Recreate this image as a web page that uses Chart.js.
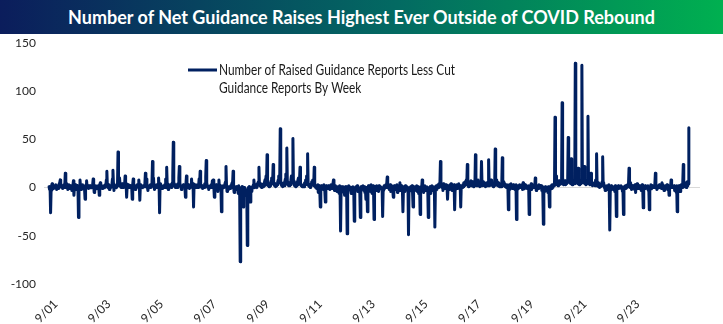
<!DOCTYPE html>
<html>
<head>
<meta charset="utf-8">
<script src="https://cdn.jsdelivr.net/npm/chart.js@4.4.1/dist/chart.umd.min.js"></script>
<style>
  html, body { margin: 0; padding: 0; background: #fff; }
  #wrap { position: relative; width: 723px; height: 324px; overflow: hidden; }
  #myChart { position: absolute; left: 0; top: 0; }
  #title {
    position: absolute; left: 0; top: 0; width: 723px; height: 34px;
    background: linear-gradient(to right, #0b1d5c 0%, #036a62 55%, #00b050 100%);
    color: #fff; font: bold 18px Lato, sans-serif; text-align: center; line-height: 34px;
  }
</style>
</head>
<body>
<div id="wrap">
  <canvas id="myChart" width="723" height="324"></canvas>
  <div id="title">Number of Net Guidance Raises Highest Ever Outside of COVID Rebound</div>
</div>
<script>
// weekly series, first reading is Friday 1 June 2001
var startDate = Date.UTC(2001, 5, 1);
var seriesLabel = "Number of Raised Guidance Reports Less Cut Guidance Reports By Week";
var legendLines = ["Number of Raised Guidance Reports Less Cut", "Guidance Reports By Week"];
var tickYears = [2001, 2003, 2005, 2007, 2009, 2011, 2013, 2015, 2017, 2019, 2021, 2023];
var tickLabels = ["9/01", "9/03", "9/05", "9/07", "9/09", "9/11", "9/13", "9/15", "9/17", "9/19", "9/21", "9/23"];
var yTicks = [-100, -50, 0, 50, 100, 150];

// net raises (raised minus cut), one row per calendar year
var netGuidance = [
  1,-2,0,-26,-3,2,4,1,0,-1,1,2,0,3,1,-2,0,1,2,-1,4,5,8,3,1,0,2,-1,1,3,0, // 2001
  3,15,2,0,4,1,-2,0,3,1,-1,2,0, 1,-3,-1,2,7,-8,0,1,3,0,-2,1,2, 0,-31,-4,2,8,1,0,-2,1,3,0,2,1, -2,-12,-1,3,7,1,0,2,-1,0,1,2,0, // 2002
  1,0,2,3,9,2,-5,0,1,2,0,-1,1, 0,2,1,-8,3,5,1,0,2,-1,1,0,2, 1,0,3,2,8,17,2,0,1,3,-2,1,0, 2,1,3,9,18,4,-3,1,0,2,1,0,2, // 2003
  3,37,5,2,10,3,1,0,2,4,1,0,2, 1,3,12,2,4,-10,1,0,3,2,0,1,2, 0,2,1,-12,3,9,2,0,1,-2,2,1,0, 3,2,1,8,2,-13,1,3,0,2,1,0,2,1, // 2004
  1,4,15,3,9,2,0,-3,1,2,0,1,3, 0,2,5,27,4,10,1,-2,0,2,1,3,0, 1,3,10,2,-26,4,1,0,2,-1,1,0,2, 1,3,0,9,2,21,4,1,-2,0,2,1,3, // 2005
  2,0,3,5,12,47,6,2,1,0,3,1,2, 0,4,3,10,22,5,2,1,-2,0,2,1,3, 1,2,0,-10,4,12,2,1,0,3,1,-1,2, 0,3,9,2,1,4,-20,2,0,1,3,0,2, // 2006
  1,3,0,2,9,4,17,3,1,0,2,-1,1, 2,0,4,3,11,28,5,2,0,1,-2,1,0, 2,1,3,0,7,2,8,1,-10,2,0,1,3, 0,2,-4,3,8,1,0,2,1,-25,-3,0,2, // 2007
  0,2,1,4,6,22,3,-4,0,1,-2,0,1, -1,2,0,3,5,4,17,1,-5,0,-2,1,0, -2,1,0,-6,2,-3,-8,-77,-4,0,-2,1,-1, -20,-3,0,-5,-2,-8,-4,-3,-60,-6,0,-2,1, // 2008
  -3,-15,-2,0,-4,1,0,3,8,2,0,1,3, 2,0,4,5,6,21,3,2,4,1,0,3,2, 1,4,2,6,8,5,12,3,34,6,2,4,1, 3,2,5,7,10,4,6,24,5,3,2,4,1, // 2009
  2,4,3,6,8,12,5,10,61,7,3,2,4, 1,3,5,2,6,9,14,8,41,6,3,2,4, 2,5,3,8,12,6,10,51,7,4,2,3,1, 4,2,6,3,8,10,5,7,21,4,2,3,1,2, // 2010
  2,3,1,5,4,8,6,12,3,35,4,2,1, 3,0,2,4,6,3,8,5,2,21,3,1,0, 2,-1,0,3,-5,1,2,-3,-20,0,2,-1,1, 0,-2,3,1,-4,-15,0,2,-1,1,0,2,-1, // 2011
  0,-2,1,3,-1,2,0,4,8,1,-3,0,2, -1,0,-4,1,-2,0,-6,2,-3,-45,-5,0,1, -2,0,1,-3,-8,0,-2,1,-5,-48,-4,0,2, -1,1,0,-3,-6,-2,0,1,-4,-2,-35,-3,0, // 2012
  1,0,-2,2,-4,0,-1,-3,-6,-31,-2,1,0, -1,2,0,-3,1,-5,-2,-12,0,-3,-25,-1,2, 0,-2,1,-4,3,-1,-6,0,2,-2,-33,-3,1, 0,-1,2,-3,0,1,-4,2,0,-1,1,0,-2, // 2013
  -2,-30,-3,0,2,-1,1,3,0,4,11,2,0, 1,-2,0,3,-4,1,2,0,-3,-10,-1,2,0, 1,-2,0,3,-5,2,0,1,-3,5,0,-1,2, 0,-3,-25,-2,1,0,-4,2,-1,0,1,-2,0, // 2014
  -49,-4,0,-2,1,-3,0,2,-5,-20,-2,0,1, -1,0,-3,2,-4,0,1,-6,-2,0,-28,-3,1, 0,8,-2,1,-5,0,2,-3,0,-1,1,0,-2, -31,-4,0,-2,1,-6,0,2,-1,0,-3,1,0, // 2015
  -41,-3,0,2,-2,1,3,0,4,2,5,27,3, 1,0,2,-3,4,1,0,2,-1,3,0,1,-12, 0,2,1,-2,3,0,4,1,-3,2,0,1,3, -23,-2,1,0,3,-1,2,0,4,1,0,2,-20,1, // 2016
  2,0,3,1,5,4,2,6,3,8,4,24,3, 1,4,2,5,3,7,2,4,6,3,1,2,4, 3,34,5,2,6,4,8,3,2,5,1,3,4, 27,4,2,6,3,5,2,4,1,3,5,2,4, // 2017
  3,29,5,2,6,4,8,3,2,5,1,3,4, 2,40,6,3,8,4,2,5,3,1,4,2,3, 1,4,31,5,2,6,3,4,1,2,0,3,1, 2,-23,0,3,-2,1,4,0,2,-1,1,3,0, // 2018
  1,-2,0,3,-33,-4,0,2,-1,1,3,0,2, 1,0,3,-2,5,2,0,-1,3,1,0,2,-1, 1,0,2,-28,-3,1,0,4,-2,1,2,0,1, 3,0,10,2,-3,1,0,2,-1,3,0,1,2, // 2019
  0,2,-3,1,-6,-38,-2,0,-4,1,-2,0,-3, 0,-5,1,-3,-20,-4,0,2,-1,3,1,0,2, 4,2,73,8,12,6,3,5,2,4,7,3,5, 6,4,8,88,10,6,3,5,4,7,3,5,4, // 2020
  6,8,52,10,7,5,9,4,30,6,3,8,5, 7,4,10,129,8,6,5,9,4,20,6,3,5, 4,8,6,127,10,5,7,9,22,4,6,3,5, 7,4,74,9,5,8,3,6,15,4,5,2,3,4, // 2021
  3,5,2,8,6,35,4,2,5,1,3,0,2, 1,4,2,6,32,3,5,0,2,-3,1,0,2, 1,-2,0,3,-5,-44,-3,0,2,-1,1,0,-2, 1,0,-4,2,0,-30,-3,1,0,2,-1,0,1, // 2022
  0,2,-1,1,-4,0,-28,-2,1,0,2,-1,1, 0,3,1,4,20,2,0,5,1,-2,0,1,2, 0,1,-2,3,-5,2,0,4,1,-1,0,2,1, 0,2,-3,1,3,0,-21,-2,1,0,2,-1,0, // 2023
  1,0,2,-3,0,-23,-2,1,3,0,-1,2,0, 1,2,0,4,15,3,1,-2,0,2,1,0,3, 1,0,2,-1,5,3,0,2,-3,1,0,2,1, 0,3,-2,1,0,-8,2,0,1,8,2,0,1, // 2024
  1,0,2,-3,1,0,-5,2,-25,-3,0,1,2,0,-4,1,3,2,0,5,24,4,1,3,2,5,0,3,6,2,4,62 // 2025
];

var WEEK_MS = 7 * 24 * 3600 * 1000;
var tickWeeks = tickYears.map(function (y) {
  return (Date.UTC(y, 8, 1) - startDate) / WEEK_MS;
});

var points = netGuidance.map(function (v, i) { return { x: i, y: v }; });

// two-line legend inside the plot, text squeezed to the width of the narrow Office face
var legendBox = {
  id: 'legendBox',
  afterDraw: function (chart) {
    var ctx = chart.ctx;
    var ds = chart.data.datasets[0];
    ctx.save();
    ctx.strokeStyle = ds.borderColor;
    ctx.lineWidth = 3;
    ctx.beginPath();
    ctx.moveTo(188, 70);
    ctx.lineTo(217, 70);
    ctx.stroke();
    ctx.fillStyle = '#1a1a1a';
    ctx.font = '15px Lato, sans-serif';
    ctx.textBaseline = 'middle';
    var sx = 236 / ctx.measureText(legendLines[0]).width;
    ctx.translate(219, 70);
    ctx.scale(sx, 1);
    legendLines.forEach(function (t, i) {
      ctx.fillText(t, 0, i * 18);
    });
    ctx.restore();
  }
};

var ctx = document.getElementById("myChart");
var myChart = new Chart(ctx, {
  type: 'line',
  data: {
    datasets: [{
      label: seriesLabel,
      data: points,
      borderColor: '#002060',
      borderWidth: 3,
      borderJoinStyle: 'round',
      borderCapStyle: 'round',
      pointRadius: 0,
      tension: 0,
      fill: false
    }]
  },
  options: {
    responsive: false,
    animation: false,
    events: [],
    layout: { padding: { left: 0, right: 23, top: 43, bottom: 0 } },
    plugins: {
      legend: { display: false },
      tooltip: { enabled: false }
    },
    scales: {
      x: {
        type: 'linear',
        min: -10,
        max: 1284,
        afterBuildTicks: function (scale) {
          scale.ticks = tickWeeks.map(function (w) { return { value: w }; });
        },
        afterFit: function (scale) { scale.height = 40; },
        grid: { display: false },
        border: { display: false },
        ticks: {
          autoSkip: false,
          minRotation: 45,
          maxRotation: 45,
          padding: 5,
          color: '#262626',
          font: { family: 'Lato, sans-serif', size: 12 },
          callback: function (v, i) { return tickLabels[i]; }
        }
      },
      y: {
        min: yTicks[0],
        max: yTicks[yTicks.length - 1],
        afterBuildTicks: function (scale) {
          scale.ticks = yTicks.map(function (v) { return { value: v }; });
        },
        afterFit: function (scale) { scale.width = 44; },
        border: { display: false },
        grid: {
          drawTicks: false,
          color: function (c) { return c.tick && c.tick.value === 0 ? '#d9d9d9' : 'rgba(0,0,0,0)'; }
        },
        ticks: {
          padding: 8,
          color: '#262626',
          font: { family: 'Lato, sans-serif', size: 12 }
        }
      }
    }
  },
  plugins: [legendBox]
});
</script>
</body>
</html>
